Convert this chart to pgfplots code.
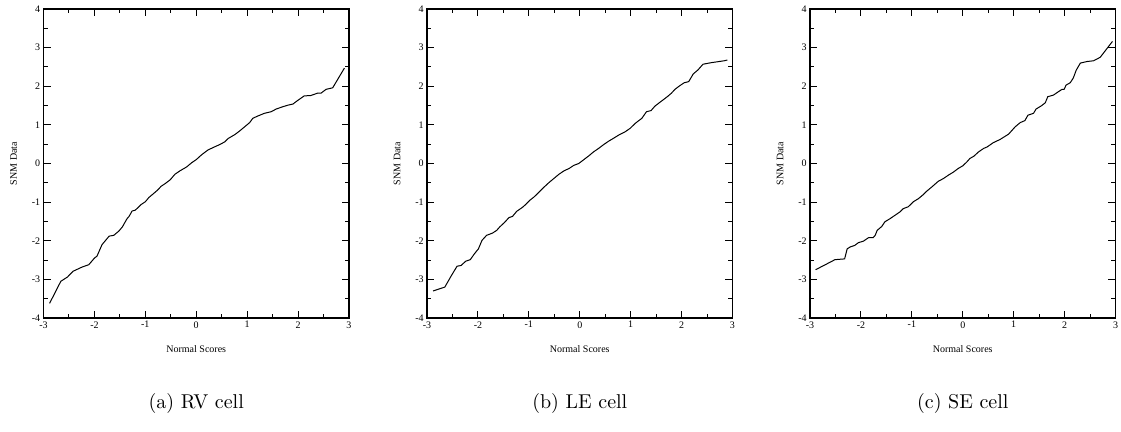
\documentclass[border=0pt]{standalone}
\usepackage{pgfplots}
\pgfplotsset{compat=1.18}
\usepackage{fontspec}
\newfontfamily\timesf{Liberation Serif}

\pgfplotstableread{
x y
-2.88 -3.62
-2.66 -3.05
-2.53 -2.94
-2.42 -2.79
-2.24 -2.68
-2.11 -2.62
-2.00 -2.45
-1.95 -2.40
-1.85 -2.10
-1.71 -1.88
-1.62 -1.86
-1.52 -1.75
-1.45 -1.64
-1.36 -1.43
-1.32 -1.37
-1.26 -1.23
-1.20 -1.21
-1.15 -1.15
-1.08 -1.06
-1.00 -0.99
-0.93 -0.88
-0.84 -0.78
-0.76 -0.69
-0.69 -0.59
-0.61 -0.52
-0.51 -0.42
-0.42 -0.28
-0.32 -0.19
-0.19 -0.09
-0.09 0.02
0.00 0.10
0.10 0.22
0.23 0.35
0.36 0.43
0.46 0.49
0.56 0.56
0.63 0.65
0.76 0.75
0.85 0.84
0.95 0.95
1.05 1.06
1.11 1.17
1.21 1.23
1.34 1.30
1.47 1.34
1.57 1.41
1.70 1.47
1.80 1.51
1.90 1.54
1.99 1.63
2.12 1.75
2.25 1.76
2.38 1.82
2.45 1.82
2.55 1.92
2.68 1.96
2.91 2.47
}\dataRV

\pgfplotstableread{
x y
-2.88 -3.30
-2.65 -3.20
-2.52 -2.90
-2.41 -2.66
-2.33 -2.64
-2.24 -2.53
-2.15 -2.49
-2.07 -2.34
-1.99 -2.21
-1.92 -1.99
-1.83 -1.86
-1.71 -1.80
-1.63 -1.73
-1.57 -1.64
-1.48 -1.53
-1.39 -1.40
-1.32 -1.37
-1.24 -1.24
-1.13 -1.14
-1.06 -1.06
-0.98 -0.95
-0.90 -0.87
-0.80 -0.74
-0.70 -0.61
-0.61 -0.50
-0.51 -0.39
-0.41 -0.28
-0.31 -0.19
-0.21 -0.13
-0.12 -0.05
-0.02 0.00
0.08 0.10
0.18 0.20
0.27 0.30
0.37 0.39
0.47 0.49
0.57 0.58
0.66 0.65
0.77 0.74
0.89 0.82
0.99 0.91
1.09 1.04
1.22 1.17
1.31 1.34
1.40 1.37
1.48 1.49
1.61 1.62
1.72 1.73
1.80 1.82
1.87 1.92
1.96 2.01
2.05 2.09
2.14 2.12
2.23 2.32
2.32 2.42
2.42 2.57
2.58 2.61
2.84 2.66
2.90 2.68
}\dataLE

\pgfplotstableread{
x y
-2.89 -2.75
-2.67 -2.60
-2.51 -2.49
-2.32 -2.47
-2.27 -2.21
-2.21 -2.16
-2.12 -2.12
-2.05 -2.05
-1.95 -2.01
-1.85 -1.92
-1.76 -1.92
-1.72 -1.86
-1.68 -1.73
-1.59 -1.63
-1.53 -1.51
-1.43 -1.43
-1.33 -1.34
-1.23 -1.25
-1.17 -1.17
-1.07 -1.12
-0.97 -0.99
-0.87 -0.91
-0.77 -0.80
-0.71 -0.72
-0.61 -0.61
-0.48 -0.46
-0.38 -0.39
-0.28 -0.30
-0.18 -0.22
-0.09 -0.13
0.00 -0.06
0.08 0.04
0.14 0.13
0.22 0.19
0.31 0.30
0.41 0.39
0.48 0.43
0.60 0.54
0.73 0.62
0.90 0.76
1.03 0.95
1.13 1.06
1.22 1.11
1.28 1.25
1.39 1.30
1.44 1.41
1.54 1.49
1.62 1.57
1.67 1.73
1.78 1.77
1.88 1.86
1.95 1.92
1.99 1.92
2.03 2.03
2.11 2.09
2.17 2.21
2.23 2.42
2.31 2.60
2.44 2.64
2.57 2.66
2.70 2.75
2.94 3.16
}\dataSE

\pgfplotsset{
  qqstyle/.style={
    scale only axis,
    width=152.75pt, height=154.5pt,
    anchor=south west,
    xmin=-3, xmax=3, ymin=-4, ymax=4,
    xtick={-3,-2,-1,0,1,2,3},
    ytick={-4,-3,-2,-1,0,1,2,3,4},
    minor x tick num=1, minor y tick num=1,
    tick align=inside, tick pos=both,
    major tick length=3.5pt, minor tick length=2pt,
    axis line style={line width=0.65pt},
    every tick/.style={line width=0.5pt, black},
    /pgf/number format/assume math mode=true,
    tick label style={font=\timesf\fontsize{5}{6}\selectfont},
    xticklabel style={inner sep=1.5pt},
    yticklabel style={inner sep=1.5pt},
    label style={font=\timesf\fontsize{5}{6}\selectfont},
    xlabel={Normal Scores}, ylabel={SNM Data},
    xlabel style={at={(axis description cs:0.5,-0.10)}, anchor=center},
    ylabel style={at={(axis description cs:-0.098,0.5)}, anchor=center},
  }
}

\begin{document}
\begin{tikzpicture}
\path[use as bounding box] (0,0) rectangle (560.5pt,216pt);
\begin{axis}[qqstyle, at={(21.75pt,57pt)}]
\addplot[black, line width=0.5pt, no marks] table[x=x,y=y] {\dataRV};
\end{axis}
\begin{axis}[qqstyle, at={(213.5pt,57pt)}]
\addplot[black, line width=0.5pt, no marks] table[x=x,y=y] {\dataLE};
\end{axis}
\begin{axis}[qqstyle, at={(405pt,57pt)}]
\addplot[black, line width=0.5pt, no marks] table[x=x,y=y] {\dataSE};
\end{axis}
\node[font=\fontsize{10}{12}\selectfont] at (98.1pt,14pt) {(a) RV cell};
\node[font=\fontsize{10}{12}\selectfont] at (289.9pt,14pt) {(b) LE cell};
\node[font=\fontsize{10}{12}\selectfont] at (481.4pt,14pt) {(c) SE cell};
\end{tikzpicture}
\end{document}
